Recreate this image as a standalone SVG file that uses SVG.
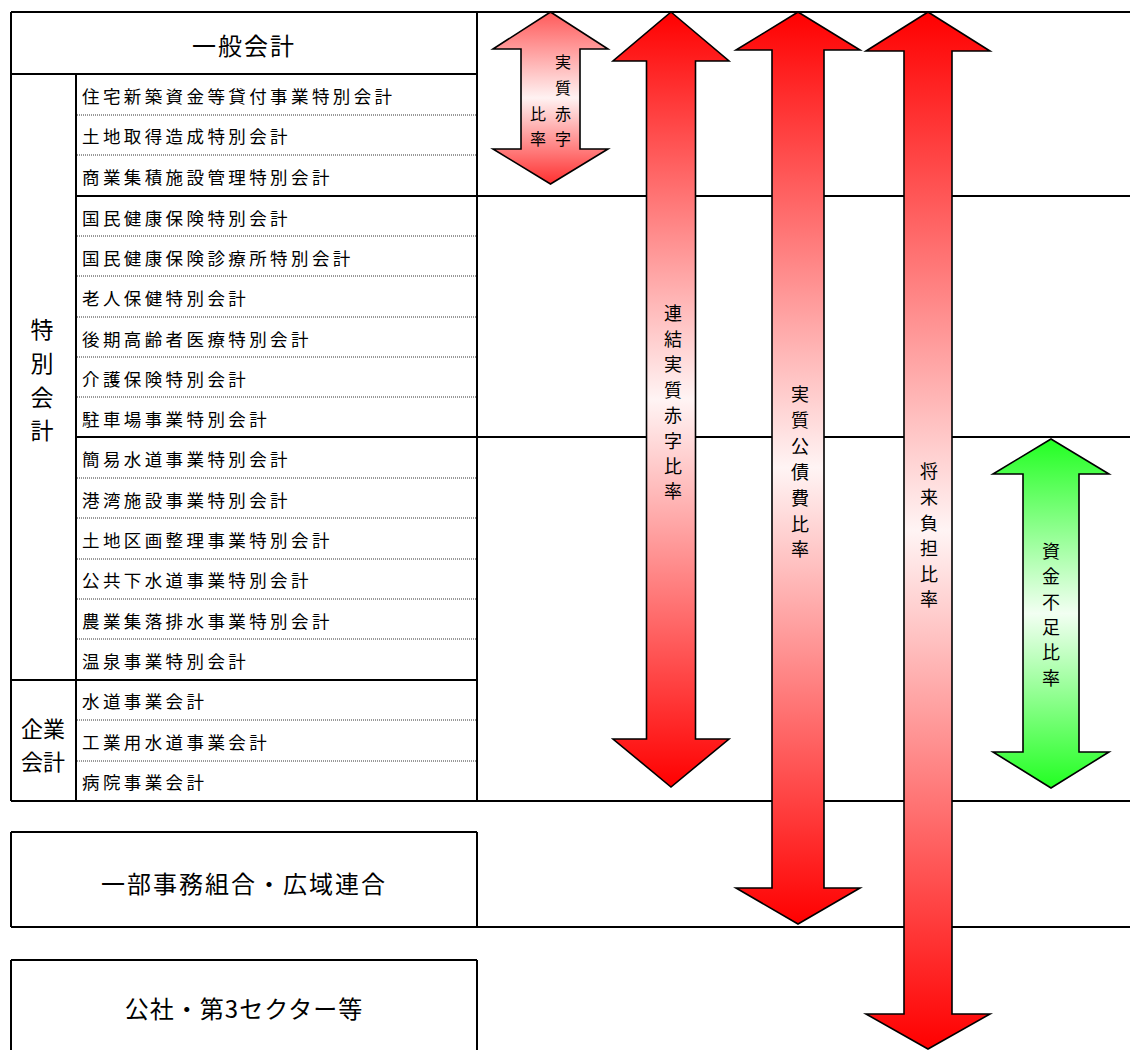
<svg xmlns="http://www.w3.org/2000/svg" width="1130" height="1050" viewBox="0 0 1130 1050">
<style>
.ln{stroke:#000;stroke-width:2;fill:none}
.dot{stroke:#333;stroke-width:1;stroke-dasharray:1 1;fill:none}
.arrow{stroke:#000;stroke-width:1.6;stroke-linejoin:miter}
.t{font-family:"Noto Sans CJK JP","Noto Sans CJK SC",sans-serif;fill:#000}
.row{font-size:17.5px;letter-spacing:3.4px;dominant-baseline:central}
.big{font-size:24px;text-anchor:middle;dominant-baseline:central}
.lab{font-size:23px;text-anchor:middle;dominant-baseline:central}
.lab2{font-size:22px;text-anchor:middle;dominant-baseline:central}
.v{font-size:18px;text-anchor:middle;dominant-baseline:central}
.vs{font-size:16px;text-anchor:middle;dominant-baseline:central}
</style>
<defs>
<linearGradient id="gRed" x1="0" y1="0" x2="0" y2="1">
<stop offset="0" stop-color="#ff0000"/>
<stop offset="0.5" stop-color="#fff4f4"/>
<stop offset="1" stop-color="#ff0000"/>
</linearGradient>
<linearGradient id="gRedS" x1="0" y1="0" x2="0" y2="1">
<stop offset="0" stop-color="#ff5a5a"/>
<stop offset="0.5" stop-color="#fff2f2"/>
<stop offset="1" stop-color="#ff3030"/>
</linearGradient>
<linearGradient id="gGreen" x1="0" y1="0" x2="0" y2="1">
<stop offset="0" stop-color="#22ff22"/>
<stop offset="0.5" stop-color="#f2fff2"/>
<stop offset="1" stop-color="#22ff22"/>
</linearGradient>
</defs>
<rect width="1130" height="1050" fill="#fff"/>

<g id="table-lines">
<line class="ln" x1="11" y1="12" x2="1130" y2="12"/>
<line class="ln" x1="11" y1="12" x2="11" y2="801"/>
<line class="ln" x1="477" y1="12" x2="477" y2="801"/>
<line class="ln" x1="76" y1="74" x2="76" y2="801"/>
<line class="ln" x1="11" y1="74" x2="477" y2="74"/>
<line class="ln" x1="76" y1="196" x2="1130" y2="196"/>
<line class="ln" x1="76" y1="437" x2="1130" y2="437"/>
<line class="ln" x1="11" y1="680" x2="477" y2="680"/>
<line class="ln" x1="11" y1="801" x2="1130" y2="801"/>
<path class="dot" d="M77 115H477M77 155H477M77 236H477M77 276H477M77 317H477M77 357H477M77 397H477M77 478H477M77 518H477M77 559H477M77 599H477M77 639H477M77 720H477M77 761H477"/>
<line class="ln" x1="11" y1="832" x2="477" y2="832"/>
<line class="ln" x1="11" y1="832" x2="11" y2="927"/>
<line class="ln" x1="477" y1="832" x2="477" y2="927"/>
<line class="ln" x1="11" y1="927" x2="1130" y2="927"/>
<line class="ln" x1="11" y1="960" x2="477" y2="960"/>
<line class="ln" x1="11" y1="960" x2="11" y2="1050"/>
<line class="ln" x1="477" y1="960" x2="477" y2="1050"/>
</g>

<g id="n-ippan"><text class="t big" x="244" y="44" letter-spacing="2">一般会計</text></g>
<g id="n-tokubetsu">
<text class="t lab" x="42" y="328">特</text>
<text class="t lab" x="42" y="362">別</text>
<text class="t lab" x="42" y="396">会</text>
<text class="t lab" x="42" y="429">計</text>
</g>
<g id="n-kigyo">
<text class="t lab2" x="43" y="727">企業</text>
<text class="t lab2" x="43" y="760">会計</text>
</g>
<g id="n-rows">
<text class="t row" x="82" y="95">住宅新築資金等貸付事業特別会計</text>
<text class="t row" x="82" y="135">土地取得造成特別会計</text>
<text class="t row" x="82" y="176">商業集積施設管理特別会計</text>
<text class="t row" x="82" y="217">国民健康保険特別会計</text>
<text class="t row" x="82" y="257">国民健康保険診療所特別会計</text>
<text class="t row" x="82" y="297">老人保健特別会計</text>
<text class="t row" x="82" y="338">後期高齢者医療特別会計</text>
<text class="t row" x="82" y="378">介護保険特別会計</text>
<text class="t row" x="82" y="418">駐車場事業特別会計</text>
<text class="t row" x="82" y="458">簡易水道事業特別会計</text>
<text class="t row" x="82" y="499">港湾施設事業特別会計</text>
<text class="t row" x="82" y="539">土地区画整理事業特別会計</text>
<text class="t row" x="82" y="579">公共下水道事業特別会計</text>
<text class="t row" x="82" y="620">農業集落排水事業特別会計</text>
<text class="t row" x="82" y="660">温泉事業特別会計</text>
<text class="t row" x="82" y="700">水道事業会計</text>
<text class="t row" x="82" y="741">工業用水道事業会計</text>
<text class="t row" x="82" y="781">病院事業会計</text>
</g>
<g id="n-ichibu"><text class="t big" x="244" y="882" letter-spacing="2">一部事務組合・広域連合</text></g>
<g id="n-kosha"><text class="t big" x="244" y="1007" font-size="23" letter-spacing="1">公社・第3セクター等</text></g>

<g id="connectors">
<path class="arrow" fill="url(#gRedS)" d="M550.5,12 L608,49 L580,49 L580,149 L608,149 L550.5,184 L493,149 L521,149 L521,49 L493,49 Z"/>
<path class="arrow" fill="url(#gRed)" d="M671,12 L729,61 L695.5,61 L695.5,739 L729,739 L671,787 L613,739 L646.5,739 L646.5,61 L613,61 Z"/>
<path class="arrow" fill="url(#gRed)" d="M798,12 L860,50 L824,50 L824,888 L860,888 L798,924 L736,888 L772,888 L772,50 L736,50 Z"/>
<path class="arrow" fill="url(#gRed)" d="M928,12 L990,51 L952,51 L952,1014 L990,1014 L928,1049 L866,1014 L904,1014 L904,51 L866,51 Z"/>
<path class="arrow" fill="url(#gGreen)" d="M1051,439 L1109,474 L1079,474 L1079,752 L1109,752 L1051,788 L993,752 L1023,752 L1023,474 L993,474 Z"/>
</g>

<g id="n-jisshitsu-akaji">
<text class="t vs" x="563"><tspan x="563" y="61">実</tspan><tspan x="563" y="87">質</tspan><tspan x="563" y="113">赤</tspan><tspan x="563" y="138">字</tspan></text>
<text class="t vs" x="538"><tspan x="538" y="113">比</tspan><tspan x="538" y="138">率</tspan></text>
</g>
<g id="n-renketsu">
<text class="t v" x="673"><tspan x="673" y="312">連</tspan><tspan x="673" y="337.5">結</tspan><tspan x="673" y="363">実</tspan><tspan x="673" y="388.5">質</tspan><tspan x="673" y="414">赤</tspan><tspan x="673" y="439.5">字</tspan><tspan x="673" y="465">比</tspan><tspan x="673" y="490">率</tspan></text>
</g>
<g id="n-kosaihi">
<text class="t v" x="800"><tspan x="800" y="393">実</tspan><tspan x="800" y="419">質</tspan><tspan x="800" y="445">公</tspan><tspan x="800" y="471">債</tspan><tspan x="800" y="497">費</tspan><tspan x="800" y="522.5">比</tspan><tspan x="800" y="548">率</tspan></text>
</g>
<g id="n-shorai">
<text class="t v" x="929"><tspan x="929" y="470">将</tspan><tspan x="929" y="496">来</tspan><tspan x="929" y="521.5">負</tspan><tspan x="929" y="547">担</tspan><tspan x="929" y="573">比</tspan><tspan x="929" y="598">率</tspan></text>
</g>
<g id="n-shikin">
<text class="t v" x="1051"><tspan x="1051" y="550">資</tspan><tspan x="1051" y="575">金</tspan><tspan x="1051" y="601">不</tspan><tspan x="1051" y="626">足</tspan><tspan x="1051" y="651">比</tspan><tspan x="1051" y="677">率</tspan></text>
</g>
</svg>
